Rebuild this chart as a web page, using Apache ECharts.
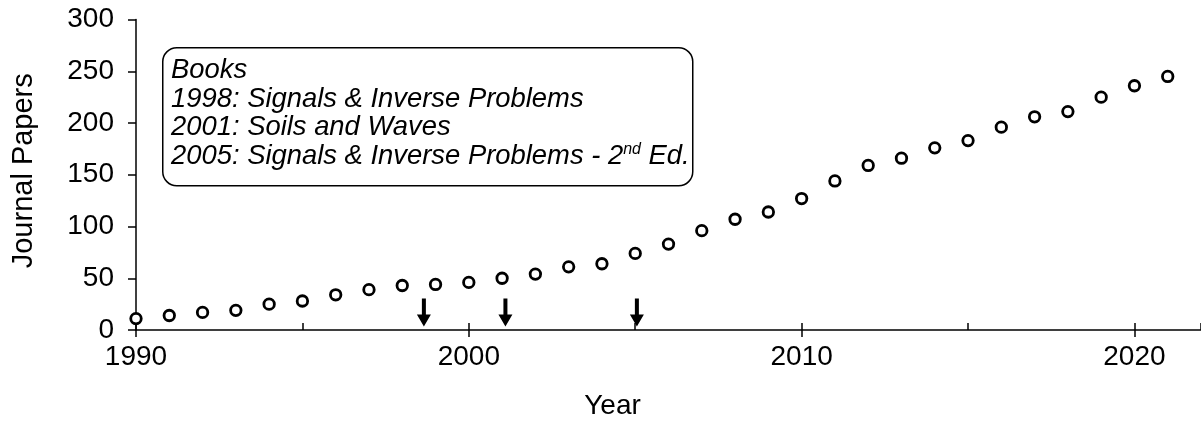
<!DOCTYPE html>
<html>
<head>
<meta charset="utf-8">
<script src="https://cdn.jsdelivr.net/npm/echarts@6/dist/echarts.min.js"></script>
<style>
html,body{margin:0;padding:0;background:#fff;}
#chart{width:1201px;height:427px;}
</style>
</head>
<body>
<div id="chart"></div>
<script>
// ---- data ----
const years = [1990,1991,1992,1993,1994,1995,1996,1997,1998,1999,2000,2001,2002,2003,2004,2005,2006,2007,2008,2009,2010,2011,2012,2013,2014,2015,2016,2017,2018,2019,2020,2021];
const papers = [11,14,17,19,25,28,34,39,43,44,46,50,54,61,64,74,83,96,107,114,127,144,159,166,176,183,196,206,211,225,236,245];
const bookYears = [1998.65, 2001.1, 2005.05];
const bookArrowY = [17, 17, 17];
const bookLines = [
  'Books',
  '1998: Signals & Inverse Problems',
  '2001: Soils and Waves'
];
const lastLine = ['2005: Signals & Inverse Problems - 2', 'nd', ' Ed.'];
const yTicks = [0, 50, 100, 150, 200, 250, 300];
const xTicks = [1990, 2000, 2010, 2020];

const FONT = '"Liberation Sans", Arial, sans-serif';
const chart = echarts.init(document.getElementById('chart'));

const arrowPath = 'path://M5,0 L9,0 L9,16 L14,16 L7,28 L0,16 L5,16 Z';

const option = {
  backgroundColor: '#ffffff',
  animation: false,
  grid: { left: 136, right: -4, top: 19.5, bottom: 97, containLabel: false },
  xAxis: [
    {
      type: 'value', min: 1990, max: 2022, interval: 10,
      name: 'Year', nameLocation: 'middle', nameGap: 62,
      nameTextStyle: { fontFamily: FONT, fontSize: 28, color: '#000', padding: [0, 112, 0, 0] },
      axisLine: { show: true, onZero: false, lineStyle: { color: '#000', width: 1.5 } },
      axisTick: { show: true, inside: false, length: 7, lineStyle: { color: '#000', width: 1.5 } },
      axisLabel: {
        fontFamily: FONT, fontSize: 28, color: '#000', margin: 13, showMaxLabel: false,
        formatter: v => xTicks.indexOf(v) >= 0 ? String(v) : ''
      },
      splitLine: { show: false }
    },
    {
      type: 'value', min: 1990, max: 2022, interval: 5, position: 'bottom',
      axisLine: { show: false },
      axisTick: { show: true, inside: true, length: 7, lineStyle: { color: '#000', width: 1.5 } },
      axisLabel: { show: false },
      splitLine: { show: false }
    }
  ],
  yAxis: {
    type: 'value', min: 0, max: 300, interval: 50,
    name: 'Journal Papers', nameLocation: 'middle', nameGap: 98,
    nameTextStyle: { fontFamily: FONT, fontSize: 29, color: '#000', padding: [0, 0, 0, 8] },
    axisLine: { show: true, lineStyle: { color: '#000', width: 1.5 } },
    axisTick: { show: true, inside: false, length: 8, lineStyle: { color: '#000', width: 1.5 } },
    axisLabel: {
      fontFamily: FONT, fontSize: 28, color: '#000', margin: 22,
      formatter: v => yTicks.indexOf(v) >= 0 ? String(v) : ''
    },
    splitLine: { show: false }
  },
  graphic: [
    {
      type: 'rect', left: 162, top: 47, z: 10,
      shape: { width: 530, height: 138, r: 14 },
      style: { fill: '#fff', stroke: '#000', lineWidth: 1.5 }
    },
    {
      type: 'text', left: 171, top: 57, z: 11,
      style: {
        text: bookLines.map(s => '{a|' + s + '}').join('\n') +
              '\n{a|' + lastLine[0] + '}{s|' + lastLine[1] + '}{a|' + lastLine[2] + '}',
        rich: {
          a: { fontFamily: FONT, fontStyle: 'italic', fontSize: 27.4, lineHeight: 28.5, fill: '#000' },
          s: { fontFamily: FONT, fontStyle: 'italic', fontSize: 16, lineHeight: 28.5, verticalAlign: 'top', fill: '#000', padding: [0, 0, 0, 0] }
        }
      }
    }
  ],
  series: [
    {
      type: 'scatter', xAxisIndex: 0, yAxisIndex: 0,
      data: years.map((y, i) => [y, papers[i]]),
      symbol: 'circle', symbolSize: 10.5, clip: false,
      itemStyle: { color: '#fff', borderColor: '#000', borderWidth: 2.8, opacity: 1 },
      z: 5
    },
    {
      type: 'scatter', xAxisIndex: 0, yAxisIndex: 0,
      data: bookYears.map((y, i) => [y, bookArrowY[i]]),
      symbol: arrowPath, symbolSize: [14, 28], clip: false,
      itemStyle: { color: '#000', opacity: 1 },
      z: 5
    }
  ]
};
chart.setOption(option);
</script>
</body>
</html>
